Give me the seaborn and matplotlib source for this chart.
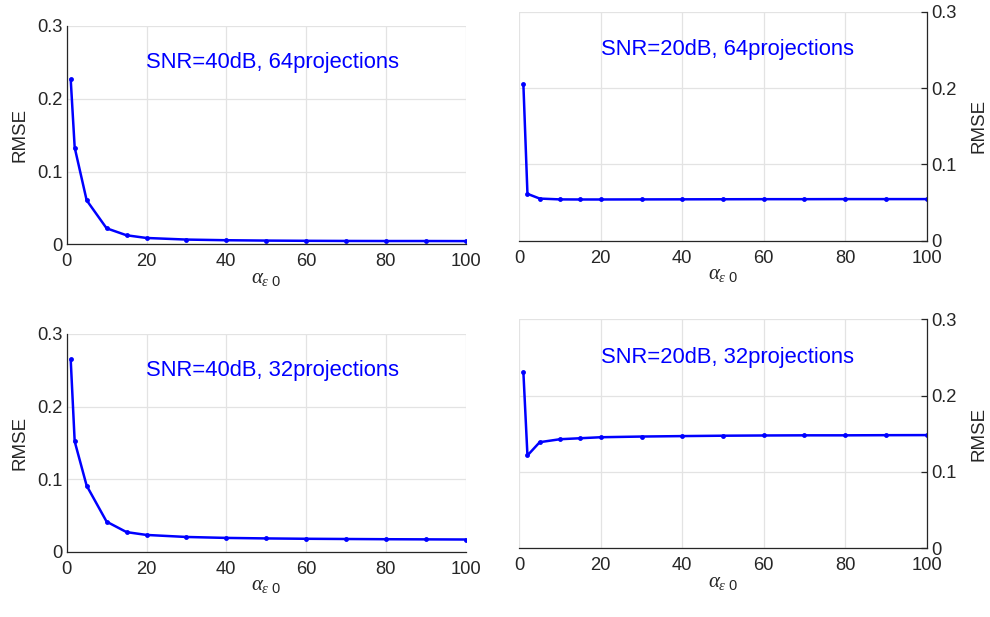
import numpy as np
import pandas as pd
import matplotlib
matplotlib.use("Agg")
import matplotlib.pyplot as plt
import seaborn as sns

# alpha_eps0 values (shared x axis)
alpha = [1, 2, 5, 10, 15, 20, 30, 40, 50, 60, 70, 80, 90, 100]

# RMSE curves
rmse_40_64 = [0.227, 0.133, 0.0605, 0.022, 0.0124, 0.0087, 0.0065, 0.0056,
              0.0051, 0.0048, 0.0046, 0.0045, 0.0045, 0.0044]
rmse_20_64 = [0.205, 0.0614, 0.0552, 0.0541, 0.054, 0.054, 0.0541, 0.0542,
              0.0543, 0.0544, 0.0544, 0.0545, 0.0545, 0.0545]
rmse_40_32 = [0.265, 0.152, 0.091, 0.0414, 0.027, 0.0231, 0.0203, 0.019,
              0.0183, 0.0178, 0.0175, 0.0172, 0.017, 0.0168]
rmse_20_32 = [0.231, 0.1216, 0.139, 0.1429, 0.1442, 0.1455, 0.1464, 0.147,
              0.1475, 0.1478, 0.148, 0.148, 0.1482, 0.1483]

titles = ["SNR=40dB, 64projections", "SNR=20dB, 64projections",
          "SNR=40dB, 32projections", "SNR=20dB, 32projections"]
series = [rmse_40_64, rmse_20_64, rmse_40_32, rmse_20_32]

sns.set_theme(style="whitegrid")
plt.rcParams["font.family"] = ["Liberation Sans", "DejaVu Sans"]
plt.rcParams["mathtext.fontset"] = "custom"
plt.rcParams["mathtext.rm"] = "Liberation Sans"
plt.rcParams["mathtext.it"] = "Liberation Serif:italic"

W, H = 990, 617
fig = plt.figure(figsize=(W / 100, H / 100), dpi=100)

# axes boxes in pixels: left, right, top, bottom
boxes = [(66.7, 465.7, 26.0, 244.3),
         (519.3, 926.7, 11.7, 240.7),
         (66.7, 465.7, 334.0, 551.7),
         (519.3, 926.7, 319.3, 548.3)]

dark = "#262626"
for i, (l, r, t, b) in enumerate(boxes):
    ax = fig.add_axes([l / W, 1 - b / H, (r - l) / W, (b - t) / H])
    df = pd.DataFrame({"alpha": alpha, "rmse": series[i]})
    sns.lineplot(data=df, x="alpha", y="rmse", ax=ax, color=(0, 0, 1),
                 linewidth=1.8, marker="o", markersize=3.5,
                 markeredgewidth=0)
    ax.set_xlim(0, 100)
    ax.set_ylim(0, 0.3)
    ax.set_xticks([0, 20, 40, 60, 80, 100])
    ax.set_yticks([0, 0.1, 0.2, 0.3])
    ax.set_yticklabels(["0", "0.1", "0.2", "0.3"])
    ax.grid(True, color="#e3e3e3", linewidth=0.9)
    ax.set_facecolor("white")
    right = (i % 2 == 1)
    for s in ["top", "left", "right", "bottom"]:
        ax.spines[s].set_visible(False)
    ax.spines["bottom"].set_visible(True)
    ax.spines["bottom"].set_color(dark)
    ax.spines["bottom"].set_linewidth(0.9)
    side = "right" if right else "left"
    ax.spines[side].set_visible(True)
    ax.spines[side].set_color(dark)
    ax.spines[side].set_linewidth(0.9)
    if right:
        ax.yaxis.tick_right()
        ax.yaxis.set_label_position("right")
    ax.tick_params(axis="both", direction="in", length=4, width=0.9,
                   color=dark, labelcolor=dark, labelsize=13.2, pad=3)
    ax.tick_params(axis="x", pad=6.5)
    ax.set_ylabel("RMSE", fontsize=13.5, color=dark,
                  labelpad=10 if right else 6)
    ax.set_xlabel(r"$\alpha_{\epsilon\ \mathrm{0}}$", fontsize=15,
                  color=dark, labelpad=-1)
    ax.text(20, 0.25, titles[i], color=(0, 0, 1), fontsize=15.8,
            ha="left", va="center")

fig.savefig("out.png", dpi=100)
